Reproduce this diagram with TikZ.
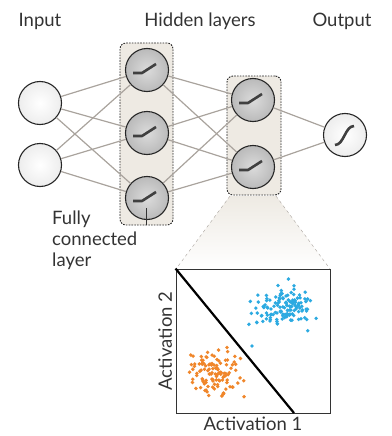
\documentclass[tikz,border=0pt]{standalone}
\usepackage{fontspec}
\setmainfont{Lato}
\usepackage{xcolor}
\usetikzlibrary{arrows.meta, positioning, calc}
\definecolor{beige}{HTML}{EEEAE3}
\definecolor{gris lien}{HTML}{A9A39D}
\definecolor{texte}{HTML}{333333}
\definecolor{bleu}{HTML}{2CAAE1}
\definecolor{orange}{HTML}{F0862A}
\tikzset{
    neurone/.style={circle, draw=black!85, line width=1.1pt, minimum size=43pt, inner sep=0pt},
    entree/.style={neurone, inner color=white, outer color=black!7},
    cache/.style={neurone, inner color=black!14, outer color=black!27},
    couche/.style={draw=black!85, dash pattern=on 1.6pt off 1.2pt, rounded corners=6pt, fill=beige, line width=0.9pt, inner sep=0pt},
    lien/.style={gris lien, line width=1.2pt},
    glyphe/.style={black!75, line width=2.6pt, line join=round},
    etiquette/.style={texte, font=\fontsize{18.5}{21}\selectfont},
    point bleu/.style={fill=bleu},
    point orange/.style={fill=orange},
}
\begin{document}
\begin{tikzpicture}[x=1pt, y=-1pt]
\useasboundingbox (0,0) rectangle (391,436);
% titres
\node[etiquette] (tin) at (40,21) {Input};
\node[etiquette] (thid) at (200,21) {Hidden layers};
\node[etiquette] (tout) at (342,21) {Output};
% couches cachees (fonds)
\node[couche, minimum width=53pt, minimum height=182pt] (c1) at (146.5,134) {};
\node[couche, minimum width=54pt, minimum height=119pt] (c2) at (254,135.5) {};
% entonnoir vers le graphique
\shade[top color=beige, bottom color=white] (230,196) -- (276,196) -- (330,269) -- (176,269) -- cycle;
\draw[gris lien, dashed] (230,196) -- (176,269);
\draw[gris lien, dashed] (276,196) -- (330,269);
% neurones
\node[entree] (e1) at (40,103) {};
\node[entree] (e2) at (40,165) {};
\node[cache] (a1) at (147,70) {};
\node[cache] (a2) at (147,133) {};
\node[cache] (a3) at (147,198) {};
\node[cache] (b1) at (253,100) {};
\node[cache] (b2) at (253,167) {};
\node[entree] (s) at (345,135) {};
% liaisons
\foreach \i in {e1,e2} {\foreach \j in {a1,a2,a3} {\draw[lien] (\i) -- (\j);}}
\foreach \i in {a1,a2,a3} {\foreach \j in {b1,b2} {\draw[lien] (\i) -- (\j);}}
\foreach \i in {b1,b2} {\draw[lien] (\i) -- (s);}
% fonctions d'activation
\foreach \n in {a1,a2,a3,b1,b2} {\draw[glyphe] ([shift={(-14,3)}]\n.center) -- ++(9,0) -- ++(14,-9);}
\draw[glyphe] ([shift={(-10,10)}]s.center) .. controls ([shift={(-1,10)}]s.center) and ([shift={(0,-9)}]s.center) .. ([shift={(9,-9)}]s.center);
% legende couche
\coordinate (fc) at ([yshift=17]c1.south);
\draw[texte, line width=0.8pt] (c1.south) -- (fc);
\node[etiquette, anchor=north west, align=left, inner sep=0pt] (tfc) at (52,211) {Fully\\connected\\layer};
% graphique
\node[draw=black!80, line width=0.9pt, fill=white, minimum width=154pt, minimum height=144pt, inner sep=0pt] (g) at (253,341) {};
\coordinate (d) at (294,413);
\draw[black, line width=2.2pt] (g.north west) -- (d);
\node[etiquette, below=0pt of g] (tx) {Activation 1};
\node[etiquette, rotate=90, above=0pt of g] at (g.west) (ty) {Activation 2};
% nuages de points
\pgfmathsetseed{42}
\foreach \k in {1,...,115} {
  \pgfmathsetmacro\dx{12*(rand+rand+rand)}
  \pgfmathsetmacro\dy{11*(rand+rand+rand)}
  \fill[point orange] (215+\dx,373+\dy) circle (1.9);
}
\foreach \k in {1,...,135} {
  \pgfmathsetmacro\dx{15*(rand+rand+rand)}
  \pgfmathsetmacro\dy{11*(rand+rand+rand)}
  \fill[point bleu] (284+\dx,306+\dy) circle (1.9);
}
\fill[point bleu] (252,346) circle (1.9);
\end{tikzpicture}
\end{document}
